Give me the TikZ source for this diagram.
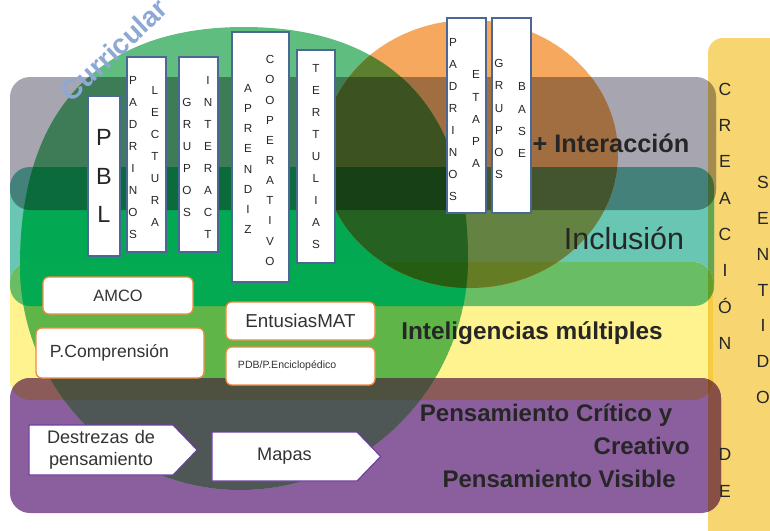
\documentclass[tikz,border=0pt]{standalone}
\usepackage{fontspec}
\setmainfont{Liberation Sans}
\usetikzlibrary{shapes.symbols, positioning}

% base colours, kept as rgb triples so that overlaps can be multiplied
\newcommand{\setrgb}[4]{%
  \expandafter\xdef\csname rgb#1\endcsname{#2,#3,#4}%
  \edef\mctmp{\noexpand\definecolor{#1}{rgb}{#2,#3,#4}}\mctmp}
\newcommand{\mulcol}[3]{%
  \edef\mcall{\csname rgb#2\endcsname,\csname rgb#3\endcsname}%
  \expandafter\mcmul\mcall\relax{#1}}
\def\mcmul#1,#2,#3,#4,#5,#6\relax#7{%
  \pgfmathsetmacro\mcr{#1*#4}%
  \pgfmathsetmacro\mcg{#2*#5}%
  \pgfmathsetmacro\mcb{#3*#6}%
  \setrgb{#7}{\mcr}{\mcg}{\mcb}}
\newcommand{\mulset}[1]{%
  \mulcol{cG#1}{cG}{c#1}\mulcol{cT#1}{cT}{c#1}\mulcol{cY#1}{cY}{c#1}\mulcol{cP#1}{cP}{c#1}%
  \mulcol{cGT#1}{cGT}{c#1}\mulcol{cTY#1}{cTY}{c#1}\mulcol{cYP#1}{cYP}{c#1}}

\setrgb{cC}{0.969}{0.835}{0.439}
\setrgb{cG}{0.655}{0.651}{0.690}
\setrgb{cT}{0.408}{0.776}{0.702}
\setrgb{cY}{1.000}{0.953}{0.565}
\setrgb{cP}{0.545}{0.373}{0.620}
\setrgb{cGr}{0.373}{0.745}{0.498}
\setrgb{cO}{0.965}{0.663}{0.369}
\mulcol{cGT}{cG}{cT}
\mulcol{cTY}{cT}{cY}
\mulcol{cYP}{cY}{cP}
\mulcol{cGrO}{cGr}{cO}
\mulset{C}
\mulset{Gr}
\mulset{O}
\mulset{GrO}
% a few overlaps inside the green blob are brighter than a plain product
\setrgb{cTGr}{0.012}{0.659}{0.325}
\setrgb{cTYGr}{0.012}{0.667}{0.318}
\setrgb{cGTGr}{0.043}{0.420}{0.235}
\setrgb{cPGr}{0.306}{0.337}{0.337}
\setrgb{cYPGr}{0.306}{0.318}{0.251}

\definecolor{boxblue}{HTML}{4A6796}
\definecolor{boxorange}{HTML}{EF8A3E}
\definecolor{boxpurple}{HTML}{6B3FA0}
\definecolor{wordblue}{HTML}{8EA8D6}

\newcommand{\fsize}[2]{\fontsize{#1}{#2}\selectfont}

% the four bands with their overlaps, in colours times factor #1
\newcommand{\bglayer}[1]{%
  \fill[cG#1, bandG]; \fill[cT#1, bandT]; \fill[cY#1, bandY]; \fill[cP#1, bandP];
  \begin{scope} \clip[bandG]; \fill[cGT#1, bandT]; \end{scope}
  \begin{scope} \clip[bandT]; \fill[cTY#1, bandY]; \end{scope}
  \begin{scope} \clip[bandY]; \fill[cYP#1, bandP]; \end{scope}}

\begin{document}
\begin{tikzpicture}[
    x=0.03cm, y=-0.03cm,
    bandG/.style={insert path={[rounded corners=0.6cm] (10,77) rectangle (716,210)}},
    bandT/.style={insert path={[rounded corners=0.6cm] (10,167) rectangle (714,306)}},
    bandY/.style={insert path={[rounded corners=0.6cm] (10,262) rectangle (713,400)}},
    bandP/.style={insert path={[rounded corners=0.6cm] (10,378) rectangle (721,513)}},
    colpath/.style={insert path={[rounded corners=0.45cm] (708,38) rectangle (800,560)}},
    greenpath/.style={insert path={(20,265) .. controls (20,110) and (98,27) .. (244,27)
      .. controls (390,27) and (468,108) .. (468,258)
      .. controls (468,386) and (366,490) .. (240,490)
      .. controls (118,490) and (20,389) .. (20,265) -- cycle}},
    orangepath/.style={insert path={(470,154) ellipse [x radius=148, y radius=134]}},
    vbox/.style={rectangle, draw=boxblue, fill=white, line width=1pt, inner sep=0pt},
    letters/.style={align=center, inner sep=0pt, text=black!85, font=\fsize{10}{#1}},
    letters/.default=18.8pt,
    rbox/.style={rectangle, draw=boxorange, fill=white, line width=1.1pt, rounded corners=5pt, inner sep=0pt, text=black!80},
    sigbox/.style={signal, signal to=east, signal pointer angle=92, draw=boxpurple, fill=white, line width=1pt, inner sep=0pt, align=center, text=black!80, font=\fsize{15.5}{19pt}},
    bandtext/.style={text=black!85, inner sep=0pt},
    colletters/.style={align=center, inner sep=0pt, text=black!85, font=\fsize{15}{31pt}}
]
\useasboundingbox (0,0) rectangle (770,531);
\clip (0,0) rectangle (770,531);

% ============ COLOURED LAYERS ============
% column on the right
\fill[cC, colpath];
\bglayer{}
\begin{scope} \clip[colpath]; \bglayer{C} \end{scope}

% big green blob
\begin{scope}
  \clip[greenpath];
  \fill[cGr, greenpath];
  \bglayer{Gr}
\end{scope}

% orange blob
\begin{scope}
  \clip[orangepath];
  \fill[cO, orangepath];
  \bglayer{O}
\end{scope}

% where both blobs meet
\begin{scope}
  \clip[greenpath];
  \clip[orangepath];
  \fill[cGrO, orangepath];
  \bglayer{GrO}
\end{scope}

\node[text=wordblue, font=\fsize{24}{28}\bfseries, rotate=43] (curric) at (114,50) {Curricular};

% ============ BAND LABELS ============
\node[bandtext, font=\fsize{21.6}{26}\bfseries] (interac) at (611,143) {+ Interacción};
\node[bandtext, font=\fsize{26}{30}] (inclus) at (624,238) {Inclusión};
\node[bandtext, font=\fsize{20.8}{25}\bfseries] (intel) at (532,333) {Inteligencias múltiples};
\node[bandtext, font=\fsize{20.5}{28pt}\bfseries, align=right, anchor=east] (pensa) at (690,446)
    {Pensamiento Crítico y\hspace*{15pt}\\Creativo\\Pensamiento Visible\hspace*{12pt}};

% ============ VERTICAL BOXES ============
\node[vbox, letters=33pt, font=\fsize{20}{33pt}, minimum width=0.96cm, minimum height=4.8cm] (pbl) at (104,176) {P\\B\\L};

\node[vbox, minimum width=1.17cm, minimum height=5.85cm] (padlect) at (146.5,154.5) {};
\node[letters] (padrinosA) at (133,157.5) {P\\A\\D\\R\\I\\N\\O\\S};
\node[letters] (lectura) at (155,156.5) {L\\E\\C\\T\\U\\R\\A};

\node[vbox, minimum width=1.17cm, minimum height=5.85cm] (gruinter) at (198.5,154.5) {};
\node[letters] (gruposA) at (187,157.5) {G\\R\\U\\P\\O\\S};
\node[letters] (interact) at (208,157.5) {I\\N\\T\\E\\R\\A\\C\\T};

\node[vbox, minimum width=1.71cm, minimum height=7.5cm] (aprcoop) at (260.5,157) {};
\node[letters=17.3pt] (aprendiz) at (248,159) {A\\P\\R\\E\\N\\D\\I\\Z};
\node[letters=17.2pt] (cooperativo) at (270,160.5) {C\\O\\O\\P\\E\\R\\A\\T\\I\\V\\O};

\node[vbox, letters, minimum width=1.14cm, minimum height=6.39cm] (tertulias) at (316,156.5) {T\\E\\R\\T\\U\\L\\I\\A\\S};

\node[vbox, minimum width=1.17cm, minimum height=5.85cm] (padetapa) at (466.5,115.5) {};
\node[letters] (padrinosB) at (453,119.5) {P\\A\\D\\R\\I\\N\\O\\S};
\node[letters] (etapa) at (476,119) {E\\T\\A\\P\\A};

\node[vbox, minimum width=1.17cm, minimum height=5.85cm] (grubase) at (511.5,115.5) {};
\node[letters] (gruposB) at (499,119) {G\\R\\U\\P\\O\\S};
\node[letters] (base) at (522,120) {B\\A\\S\\E};

% ============ ROUNDED BOXES ============
\node[rbox, font=\fsize{14}{17}, minimum width=4.5cm, minimum height=1.11cm] (amco) at (118,295.5) {AMCO};
\node[rbox, font=\fsize{15}{18}, text width=4.2cm, inner xsep=0.42cm, align=left, minimum height=1.5cm] (pcomp) at (120,353) {P.Comprensión};
\node[rbox, font=\fsize{16}{19}, minimum width=4.47cm, minimum height=1.14cm] (entus) at (300.5,321) {EntusiasMAT};
\node[rbox, font=\fsize{9}{11}, text width=3.75cm, inner xsep=0.36cm, align=left, minimum height=1.14cm] (pdb) at (300.5,366) {PDB/P.Enciclopédico};

% ============ POINTED BOXES ============
\node[sigbox, text width=4.32cm, minimum height=1.5cm] (destrezas) at (101,450) {Destrezas de\\pensamiento};
\node[sigbox, text width=4.35cm, minimum height=1.47cm] (mapas) at (284.5,456.5) {Mapas};

% ============ RIGHT COLUMN ============
\node[colletters] (creacion) at (725,290) {C\\R\\E\\A\\C\\I\\Ó\\N\\[64pt]D\\E};
\node[colletters, font=\fsize{15}{30.5pt}] (sentido) at (763,290) {S\\E\\N\\T\\I\\D\\O};

\end{tikzpicture}
\end{document}
